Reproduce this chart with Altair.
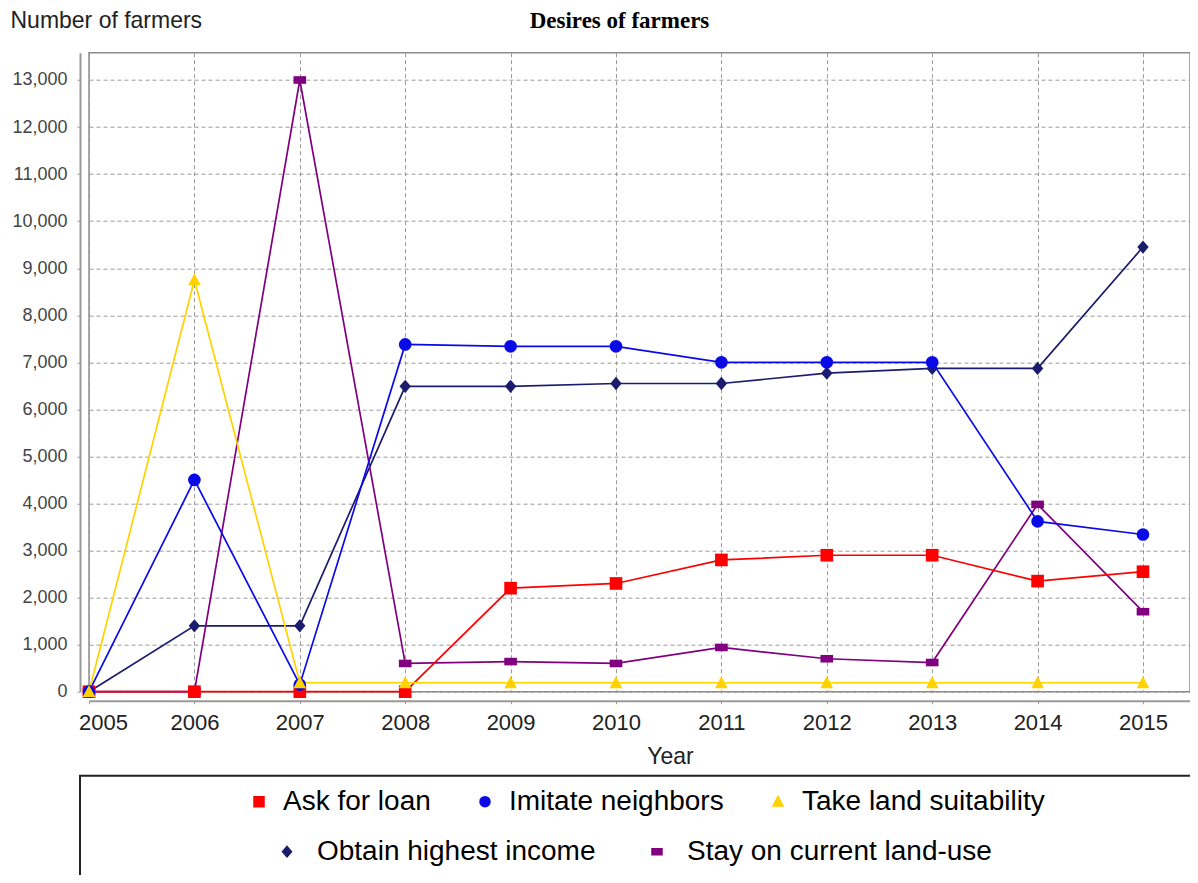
import altair as alt
import pandas as pd

years = list(range(2005, 2016))
series_names = ["Ask for loan", "Imitate neighbors", "Take land suitability",
                "Obtain highest income", "Stay on current land-use"]
ask_for_loan = [0, 0, 0, 0, 2200, 2300, 2800, 2900, 2900, 2350, 2550]
imitate_neighbors = [0, 4500, 150, 7380, 7340, 7340, 7000, 7000, 7000, 3620, 3340]
take_land_suitability = [0, 8750, 190, 190, 190, 190, 190, 190, 190, 190, 190]
obtain_highest_income = [0, 1400, 1400, 6490, 6490, 6550, 6550, 6770, 6870, 6870, 9450]
stay_on_current_land_use = [0, 0, 13000, 600, 640, 600, 940, 700, 620, 3980, 1700]
y_ticks = list(range(0, 13001, 1000))

all_values = [ask_for_loan, imitate_neighbors, take_land_suitability,
              obtain_highest_income, stay_on_current_land_use]
rows = []
for name, vals in zip(series_names, all_values):
    for yr, v in zip(years, vals):
        rows.append({"Year": yr, "Series": name, "Value": v})
df = pd.DataFrame(rows)

group1 = series_names[:3]
group2 = series_names[3:]
colors1 = ["#ff0000", "#0a0ae6", "#ffd200"]
colors2 = ["#1c1c6e", "#800080"]
square_path = "M-1,-1L1,-1L1,1L-1,1Z"
tri_path = "M0,-1.05L1,0.85L-1,0.85Z"
diamond_path = "M0,-1.05L0.9,0L0,1.05L-0.9,0Z"
rect_path = "M-1,-0.6L1,-0.6L1,0.6L-1,0.6Z"
shapes1 = [square_path, "circle", tri_path]
shapes2 = [diamond_path, rect_path]

FONT = "Liberation Sans"

x_enc = alt.X(
    "Year:Q",
    scale=alt.Scale(domain=[2005, 2015.446], nice=False, zero=False),
    axis=alt.Axis(
        values=years, format="d", title="Year",
        titleFont=FONT, titleFontSize=23, titleFontWeight="normal", titleColor="#222",
        titleX=581, titleY=63, titleBaseline="alphabetic", titleAlign="center",
        labelFont=FONT, labelFontSize=22, labelColor="#222", labelPadding=9,
        labelOverlap=False, labelFlush=False,
        labelOffset={"condition": {"test": "datum.value == 2005", "value": 14}, "value": 0},
        tickSize=3, tickColor="#999", domainColor="#999", domainWidth=2, offset=9,
        grid=True, gridColor="#999", gridDash=[4, 3],
    ),
)
y_enc = alt.Y(
    "Value:Q",
    scale=alt.Scale(domain=[0, 13580], nice=False),
    axis=alt.Axis(
        values=y_ticks, format=",d", title="Number of farmers",
        titleAngle=0, titleAlign="left", titleBaseline="alphabetic",
        titleX=-70, titleY=-25, titleFont=FONT, titleFontSize=23,
        titleFontWeight="normal", titleColor="#222",
        labelFont=FONT, labelFontSize=18, labelColor="#444", labelPadding=10,
        tickSize=3, tickColor="#999", domainColor="#999", domainWidth=2, offset=9,
        grid=True, gridColor="#999", gridDash=[4, 3],
    ),
)


def group_layer(names, colors, shapes, lx, ly, colpad, lab_off):
    leg = alt.Legend(
        title=None, orient="none", legendX=lx, legendY=ly, direction="horizontal",
        labelFont=FONT, labelFontSize=28, labelColor="black", labelOffset=lab_off,
        columnPadding=colpad, symbolSize=100, padding=0, labelLimit=0,
    )
    base = alt.Chart(df).transform_filter(
        alt.FieldOneOfPredicate(field="Series", oneOf=names)
    )
    color = alt.Color("Series:N", scale=alt.Scale(domain=names, range=colors), legend=leg)
    shape = alt.Shape("Series:N", scale=alt.Scale(domain=names, range=shapes), legend=leg)
    line = base.mark_line(strokeWidth=1.7).encode(x=x_enc, y=y_enc, color=color)
    pts = base.mark_point(filled=True, size=160, opacity=1).encode(
        x=x_enc, y=y_enc, color=color, shape=shape
    )
    return alt.layer(line, pts)


g2 = group_layer(group2, colors2, shapes2, 184, 785, 47, 16)
g1 = group_layer(group1, colors1, shapes1, 156, 735, 40, 10)

box = alt.Chart(pd.DataFrame({"box": [0]})).mark_rect(
    fillOpacity=0, stroke="#222", strokeWidth=2
).encode(x=alt.value(-9), x2=alt.value(1120), y=alt.value(723), y2=alt.value(860))

chart = alt.layer(g2, g1, box).resolve_scale(
    color="independent", shape="independent"
).properties(
    width=1101, height=639,
    title=alt.Title("Desires of farmers", font="Liberation Serif", fontSize=23,
                    fontWeight="bold", color="black", anchor="middle", dx=-20,
                    offset=0, dy=41, baseline="alphabetic"),
    autosize=alt.AutoSizeParams(type="none"),
    padding={"left": 81, "top": 44.7, "right": 0, "bottom": 183},
).configure_view(stroke="#8c8c8c", strokeWidth=1.5)

chart.save("out.html", embed_options={"renderer": "svg", "actions": False})
